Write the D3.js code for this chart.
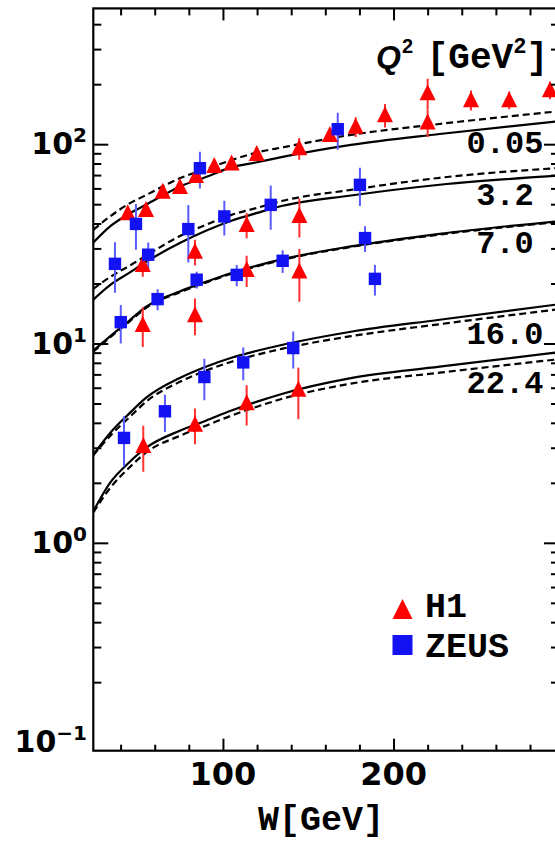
<!DOCTYPE html>
<html><head><meta charset="utf-8">
<script src="https://cdn.jsdelivr.net/npm/d3@7"></script>
<style>body{margin:0;background:#fff} svg{display:block}</style>
</head><body><svg id="c" width="555" height="841"></svg>
<script>
// ---------------- data ----------------
const curveW = [24, 34, 45, 55, 75, 90, 105, 120, 135, 175, 227, 297];
const q2Labels = ["0.05", "3.2", "7.0", "16.0", "22.4"];
const solid005  = [32.1, 38.8, 44.8, 49.8, 61.4, 68.4, 76.5, 81.2, 86.4, 99.2, 112.5, 130.4];
const dashed005 = [37.2, 43.5, 50.3, 55.6, 67.6, 75.0, 83.2, 90.9, 96.4, 111.3, 126.3, 146.3];
const solid32   = [16.6, 19.7, 22.6, 25.7, 32.0, 36.8, 41.3, 45.2, 49.1, 55.3, 62.6, 69.5];
const dashed32  = [18.8, 21.6, 24.5, 27.6, 34.7, 39.4, 44.2, 47.9, 52.0, 59.0, 67.8, 76.0];
const solid70   = [9.20, 10.88, 13.01, 15.3, 18.3, 20.4, 22.6, 24.6, 26.5, 30.7, 35.5, 41.1];
const dashed70  = [9.10, 10.75, 12.85, 15.1, 18.1, 20.2, 22.4, 24.4, 26.3, 30.5, 35.2, 40.7];
const solid160  = [2.77, 3.57, 4.45, 5.35, 6.74, 7.65, 8.49, 9.20, 9.86, 11.46, 13.16, 15.74];
const dashed160 = [2.75, 3.45, 4.25, 5.11, 6.44, 7.31, 8.10, 8.79, 9.42, 10.88, 12.50, 14.86];
const solid224  = [1.44, 2.01, 2.53, 3.00, 3.66, 4.10, 4.61, 5.11, 5.60, 6.70, 7.65, 9.04];
const dashed224 = [1.42, 1.89, 2.38, 2.84, 3.45, 3.87, 4.35, 4.82, 5.29, 6.29, 7.14, 8.34];

// H1 (triangles)
const h1W   = [44.2, 54.9, 64.7, 74.8, 84.2, 94.9, 105.1, 119.8, 144.7, 162.7, 177.8, 195, 220, 220, 245.4, 267.8, 291.7,
               53.0, 83.6, 113.9, 144.8,
               53.0, 83.6, 113.9, 144.8,
               53.3, 83.6, 113.9, 144.2];
const h1Val = [45.1, 46.9, 57.9, 61.1, 69.4, 77.9, 80.3, 89.4, 95.5, 111.3, 122.5, 140.2, 180.7, 128.6, 166.7, 166.7, 187,
               24.8, 28.9, 39.4, 43.7,
               12.4, 13.9, 23.4, 23.0,
               3.07, 3.92, 5.03, 5.87];
const h1Err = [3, 3, 4, 4, 4, 5, 5, 7, 12, 8, 14, 19, 32, 20, 19, 17, 19,
               3.2, 4.3, 5.7, 9.7,
               2.8, 2.9, 4.2, 6.8,
               0.8, 0.8, 1.15, 1.7];

// ZEUS (squares)
const zeusW   = [86.5, 167.3,
                 36.7, 49.0, 56.2, 79.7, 100.8, 128.0, 180.3,
                 40.1, 61.7, 84.6, 108.1, 135.0, 183.3, 189.1,
                 42.0, 66.0, 89.1, 111.9, 141.2];
const zeusVal = [75.8, 118.9,
                 25.1, 39.8, 27.9, 37.5, 43.4, 49.6, 62.5,
                 12.8, 16.7, 20.9, 22.1, 26.0, 33.8, 21.1,
                 3.36, 4.57, 6.79, 8.04, 9.49];
const zeusErr = [15.8, 25,
                 7.1, 10.3, 4.2, 12, 8.6, 12.4, 13.6,
                 2.8, 2.0, 2.0, 2.7, 3.4, 5.0, 3.7,
                 0.95, 0.97, 1.6, 1.5, 2.0];

// ticks
const xMajor = [100, 200];
const xMinor = [40, 60, 80, 120, 140, 160, 180, 220, 240, 260, 280];
const yMajor = [1, 10, 100];
const yMinor = [0.2,0.3,0.4,0.5,0.6,0.7,0.8,0.9, 2,3,4,5,6,7,8,9, 20,30,40,50,60,70,80,90, 200,300,400];
const yLabelVals = [0.1, 1, 10, 100];
const yLabelExp = ["\u22121", "0", "1", "2"];

// ---------------- layout ----------------
const X0 = 93.3, X1 = 559, Y0 = 750.7, Y1 = 8.4;
const svg = d3.select("#c");
const x = d3.scaleLinear().domain([24, 297]).range([X0, X1]);
const y = d3.scaleLog().domain([0.0906, 480]).range([Y0, Y1]);

svg.append("clipPath").attr("id", "clip").append("rect")
  .attr("x", X0).attr("y", Y1).attr("width", X1 - X0).attr("height", Y0 - Y1);

const plot = svg.append("g").attr("clip-path", "url(#clip)");
const line = d3.line().x((d, i) => x(curveW[i])).y(d => y(d)).curve(d3.curveMonotoneX);

const curveSets = [
  [solid005, false], [dashed005, true],
  [solid32, false], [dashed32, true],
  [solid70, false], [dashed70, true],
  [solid160, false], [dashed160, true],
  [solid224, false], [dashed224, true]
];
curveSets.forEach(([vals, dashed]) => {
  plot.append("path").attr("d", line(vals))
    .attr("fill", "none").attr("stroke", "#000").attr("stroke-width", 2.2)
    .attr("stroke-dasharray", dashed ? "7,4" : null);
});

const RED = "#ff0000", BLUE = "#1212f2";
// error bars
h1W.forEach((w, i) => {
  plot.append("line").attr("x1", x(w)).attr("x2", x(w))
    .attr("y1", y(h1Val[i] - h1Err[i])).attr("y2", y(h1Val[i] + h1Err[i]))
    .attr("stroke", "#ff3030").attr("stroke-width", 2);
});
zeusW.forEach((w, i) => {
  plot.append("line").attr("x1", x(w)).attr("x2", x(w))
    .attr("y1", y(zeusVal[i] - zeusErr[i])).attr("y2", y(zeusVal[i] + zeusErr[i]))
    .attr("stroke", "#5a5aff").attr("stroke-width", 2);
});
const tri = s => `M0,${-s * 0.55}L${s / 2},${s * 0.45}L${-s / 2},${s * 0.45}Z`;
h1W.forEach((w, i) => {
  plot.append("path").attr("d", tri(16))
    .attr("transform", `translate(${x(w)},${y(h1Val[i])})`).attr("fill", RED);
});
zeusW.forEach((w, i) => {
  plot.append("rect").attr("x", x(w) - 6.2).attr("y", y(zeusVal[i]) - 6.2)
    .attr("width", 12.4).attr("height", 12.4).attr("fill", BLUE);
});

// axes (ticks inward)
function clean(g) { g.select(".domain").remove(); g.selectAll("line").attr("stroke", "#000").attr("stroke-width", 2); g.selectAll("text").remove(); }
svg.append("g").attr("transform", `translate(${X0},0)`).call(d3.axisRight(y).tickValues(yMajor).tickSize(15)).call(clean);
svg.append("g").attr("transform", `translate(${X0},0)`).call(d3.axisRight(y).tickValues(yMinor).tickSize(8)).call(clean);
svg.append("g").attr("transform", `translate(${X1},0)`).call(d3.axisLeft(y).tickValues(yMajor).tickSize(15)).call(clean);
svg.append("g").attr("transform", `translate(${X1},0)`).call(d3.axisLeft(y).tickValues(yMinor).tickSize(8)).call(clean);
svg.append("g").attr("transform", `translate(0,${Y0})`).call(d3.axisTop(x).tickValues(xMajor).tickSize(12)).call(clean);
svg.append("g").attr("transform", `translate(0,${Y0})`).call(d3.axisTop(x).tickValues(xMinor).tickSize(6)).call(clean);
svg.append("g").attr("transform", `translate(0,${Y1})`).call(d3.axisBottom(x).tickValues(xMajor).tickSize(12)).call(clean);
svg.append("g").attr("transform", `translate(0,${Y1})`).call(d3.axisBottom(x).tickValues(xMinor).tickSize(7)).call(clean);

svg.append("rect").attr("x", X0).attr("y", Y1).attr("width", X1 - X0).attr("height", Y0 - Y1)
  .attr("fill", "none").attr("stroke", "#000").attr("stroke-width", 2.2);

// tick labels
const sans = "'DejaVu Sans', Verdana, sans-serif";
const mono = "'Liberation Mono', 'Courier New', monospace";
xMajor.forEach(v => {
  svg.append("text").attr("x", x(v)).attr("y", 785).attr("text-anchor", "middle")
    .attr("font-family", sans).attr("font-weight", "bold").attr("font-size", 32).text(v);
});
yLabelVals.forEach((v, i) => {
  const t = svg.append("text").attr("x", 87).attr("y", y(v) + 10).attr("text-anchor", "end")
    .attr("font-family", sans).attr("font-weight", "bold").attr("font-size", 30);
  t.append("tspan").text("10");
  t.append("tspan").attr("font-size", 20).attr("dy", -12).text(yLabelExp[i]);
});

// axis title
svg.append("text").attr("x", 321).attr("y", 830).attr("text-anchor", "middle")
  .attr("font-family", mono).attr("font-weight", "bold").attr("font-size", 35).text("W[GeV]");

// Q2 title
const qt = svg.append("text").attr("x", 376).attr("y", 68)
  .attr("font-family", "'Liberation Sans', Arial, sans-serif").attr("font-weight", "bold");
qt.append("tspan").attr("font-style", "italic").attr("font-size", 32).text("Q");
qt.append("tspan").attr("font-size", 20).attr("dy", -15).attr("dx", 1).text("2");
const gt = svg.append("text").attr("x", 548).attr("y", 68).attr("text-anchor", "end")
  .attr("font-family", mono).attr("font-weight", "bold").attr("font-size", 36);
gt.append("tspan").text("[GeV");
gt.append("tspan").attr("font-size", 22).attr("dy", -15).text("2");
gt.append("tspan").attr("dy", 15).text("]");

// curve labels
const labelY = [153.3, 205, 253.3, 344, 393.3];
q2Labels.forEach((s, i) => {
  svg.append("text").attr("x", 505).attr("y", labelY[i]).attr("text-anchor", "middle")
    .attr("font-family", mono).attr("font-weight", "bold").attr("font-size", 32).text(s);
});

// legend
svg.append("path").attr("d", tri(20)).attr("transform", "translate(402.5,610)").attr("fill", RED);
svg.append("rect").attr("x", 392.5).attr("y", 635).attr("width", 20).attr("height", 20).attr("fill", BLUE);
svg.append("text").attr("x", 425).attr("y", 616.5).attr("font-family", mono).attr("font-weight", "bold")
  .attr("font-size", 35).text("H1");
svg.append("text").attr("x", 425).attr("y", 656.5).attr("font-family", mono).attr("font-weight", "bold")
  .attr("font-size", 35).text("ZEUS");
</script>
</body></html>
